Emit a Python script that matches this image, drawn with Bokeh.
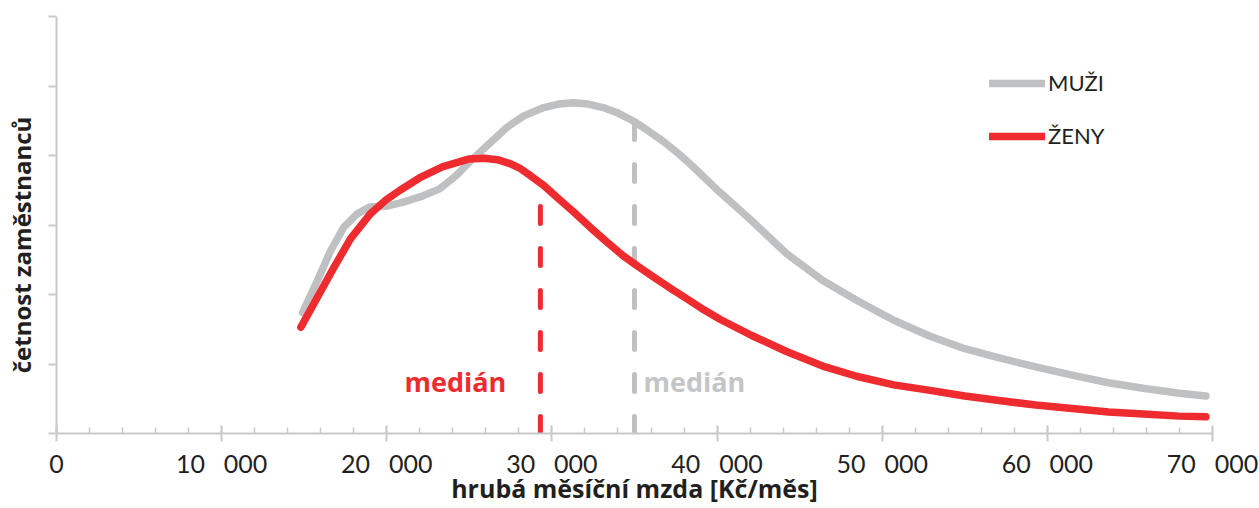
from bokeh.plotting import figure
from bokeh.models import Range1d, FixedTicker, Label, Legend, LegendItem, LinearAxis
from bokeh.embed import file_html
from bokeh.resources import INLINE

# ---------------- data ----------------
salary_men = [14900, 15800, 16600, 17400, 18200, 19000, 20000, 21000, 22200, 23200,
              24200, 25200, 26300, 27300, 28300, 29500, 30400, 31300, 32200, 33100,
              34000, 34900, 35800, 36700, 37700, 38500, 39900, 42100, 44200, 46400,
              48500, 50700, 52900, 55000, 57200, 59300, 61500, 63700, 65800, 68000, 69600]
freq_men = [1.74, 2.20, 2.63, 2.97, 3.16, 3.26, 3.27, 3.33, 3.42, 3.52,
            3.71, 3.95, 4.19, 4.41, 4.57, 4.69, 4.74, 4.76, 4.74, 4.69,
            4.61, 4.50, 4.36, 4.21, 4.02, 3.85, 3.53, 3.06, 2.59, 2.20,
            1.91, 1.63, 1.40, 1.22, 1.08, 0.96, 0.84, 0.73, 0.65, 0.58, 0.54]

salary_women = [14800, 15800, 16800, 17800, 19000, 20000, 20800, 22000, 23400, 25000,
                25900, 26700, 27500, 28100, 28700, 29500, 30300, 31300, 32300, 33300,
                34300, 35300, 36300, 37300, 38300, 39200, 40200, 42100, 44200, 46400,
                48500, 50700, 52900, 55000, 57200, 59300, 61500, 63700, 65800, 68000, 69600]
freq_women = [1.53, 1.96, 2.39, 2.80, 3.16, 3.37, 3.50, 3.68, 3.84, 3.95,
              3.96, 3.94, 3.88, 3.81, 3.71, 3.57, 3.40, 3.19, 2.97, 2.76,
              2.56, 2.39, 2.23, 2.07, 1.92, 1.78, 1.64, 1.41, 1.18, 0.97,
              0.82, 0.70, 0.62, 0.54, 0.47, 0.41, 0.36, 0.31, 0.28, 0.25, 0.24]

median_men = 35000
median_women = 29300
median_top_men = 4.5
median_top_women = 3.4

series_names = ["MUŽI", "ŽENY"]
median_text = "medián"
x_title = "hrubá měsíční mzda [Kč/měs]"
y_title = "četnost zaměstnanců"

x_ticks = [0, 10000, 20000, 30000, 40000, 50000, 60000, 70000]
x_tick_labels = ["0", "10 000", "20 000", "30 000", "40 000", "50 000", "60 000", "70 000"]
x_minor_ticks = list(range(0, 70001, 2000))
y_ticks = [0, 1, 2, 3, 4, 5, 6]

# ---------------- style ----------------
GRAY = "#BFC0C2"
GRAY_TXT = "#C4C5C7"
RED = "#EE2B2F"
DARK = "#231F20"
AXIS = "#C8C9CB"
FONT = "Lato"
BOLD_FONT = "Open Sans"

p = figure(width=1259, height=508,
           x_range=Range1d(0, 70000), y_range=Range1d(0, 6),
           output_backend="svg", toolbar_location=None,
           min_border_left=56, min_border_right=47,
           min_border_top=16, min_border_bottom=75)
p.xgrid.visible = False
p.ygrid.visible = False
p.outline_line_color = None
p.background_fill_color = "white"
p.border_fill_color = "white"

# x axis
xa = p.xaxis[0]
xa.ticker = FixedTicker(ticks=x_ticks, minor_ticks=x_minor_ticks)
xa.major_label_overrides = {t: lab.replace(" ", "\u2002 ") for t, lab in zip(x_ticks, x_tick_labels)}
xa.axis_line_color = AXIS
xa.axis_line_width = 2
xa.major_tick_line_color = AXIS
xa.major_tick_line_width = 2
xa.major_tick_in = 8
xa.major_tick_out = 8
xa.minor_tick_line_color = AXIS
xa.minor_tick_line_width = 1.5
xa.minor_tick_in = 6
xa.minor_tick_out = 0
xa.major_label_text_font = FONT
xa.major_label_text_font_size = "25px"
xa.major_label_text_color = DARK
xa.major_label_standoff = 6
xa.axis_label = x_title
xa.axis_label_text_font = BOLD_FONT
xa.axis_label_text_font_style = "bold"
xa.axis_label_text_font_size = "25px"
xa.axis_label_text_color = DARK
xa.axis_label_standoff = -10

# y axis (ticks only)
ya = p.yaxis[0]
ya.ticker = FixedTicker(ticks=y_ticks)
ya.major_label_overrides = {t: "" for t in y_ticks}
ya.major_label_standoff = 0
ya.axis_line_color = AXIS
ya.axis_line_width = 2
ya.major_tick_line_color = AXIS
ya.major_tick_line_width = 2
ya.major_tick_in = 0
ya.major_tick_out = 8
ya.minor_tick_line_color = None

# second, invisible left axis carrying the y title; trailing em/en spaces
# push the visible words slightly below the frame centre, as in the original
ytitle_axis = LinearAxis(ticker=FixedTicker(ticks=[]),
                         axis_line_color=None, major_tick_line_color=None,
                         minor_tick_line_color=None, major_tick_in=0, major_tick_out=0,
                         minor_tick_in=0, minor_tick_out=0, major_label_standoff=0,
                         axis_label=y_title + "\u2003\u2002\u2009", axis_label_standoff=11,
                         axis_label_text_font=BOLD_FONT, axis_label_text_font_style="bold",
                         axis_label_text_font_size="24px", axis_label_text_color=DARK)
p.add_layout(ytitle_axis, "left")

# median dashed lines
p.segment(x0=[median_women], y0=[0], x1=[median_women], y1=[median_top_women],
          line_color=RED, line_width=5, line_dash="17 25", line_cap="round")
p.segment(x0=[median_men], y0=[0], x1=[median_men], y1=[median_top_men],
          line_color=GRAY, line_width=5, line_dash="17 25", line_cap="round")

# curves
r_men = p.line(salary_men, freq_men, line_color=GRAY, line_width=7.5,
               line_cap="round", line_join="round")
r_women = p.line(salary_women, freq_women, line_color=RED, line_width=7.5,
                 line_cap="round", line_join="round")

# median labels
p.add_layout(Label(x=median_women, y=0.75, x_offset=-34, text=median_text,
                   text_align="right", text_baseline="alphabetic",
                   text_font=BOLD_FONT, text_font_style="bold",
                   text_font_size="27px", text_color=RED))
p.add_layout(Label(x=median_men, y=0.75, x_offset=9, text=median_text,
                   text_align="left", text_baseline="alphabetic",
                   text_font=BOLD_FONT, text_font_style="bold",
                   text_font_size="27px", text_color=GRAY_TXT))

# legend
legend = Legend(items=[LegendItem(label=series_names[0], renderers=[r_men]),
                       LegendItem(label=series_names[1], renderers=[r_women])],
                location=(933, 284), orientation="vertical",
                border_line_alpha=0, background_fill_alpha=0,
                padding=0, margin=0, spacing=26,
                glyph_width=56, glyph_height=20, label_standoff=3,
                label_text_font=FONT, label_text_font_size="22px",
                label_text_color=DARK)
p.add_layout(legend)

open("out.html", "w").write(file_html(p, INLINE))
